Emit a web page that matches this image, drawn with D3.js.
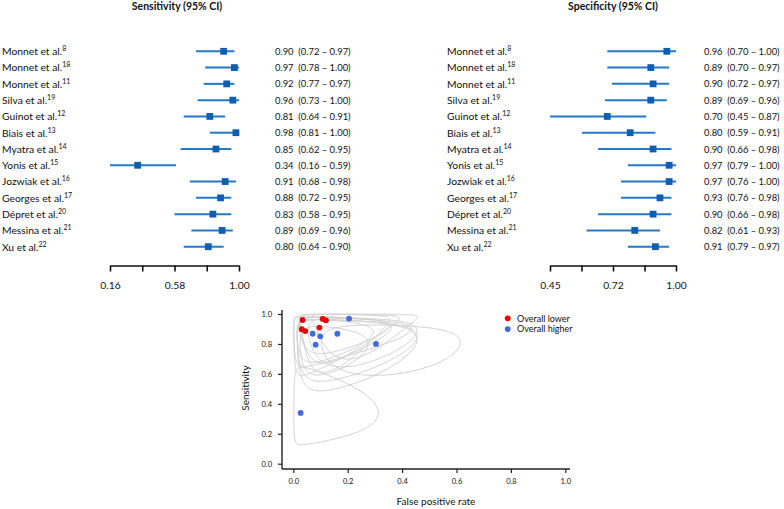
<!DOCTYPE html>
<html><head><meta charset="utf-8">
<script src="https://cdn.jsdelivr.net/npm/d3@7"></script>
<style>body{margin:0;background:#fff} svg{display:block} text{font-family:Lato,"Open Sans",sans-serif;fill:#111}</style>
</head><body><svg id="c" width="784" height="509"></svg>
<script>
// ---------- data ----------
const studies = ["Monnet et al.","Monnet et al.","Monnet et al.","Silva et al.","Guinot et al.","Biais et al.","Myatra et al.","Yonis et al.","Jozwiak et al.","Georges et al.","Dépret et al.","Messina et al.","Xu et al."];
const refs = ["8","18","11","19","12","13","14","15","16","17","20","21","22"];
const sens   = [0.90,0.97,0.92,0.96,0.81,0.98,0.85,0.34,0.91,0.88,0.83,0.89,0.80];
const sensLo = [0.72,0.78,0.77,0.73,0.64,0.81,0.62,0.16,0.68,0.72,0.58,0.69,0.64];
const sensHi = [0.97,1.00,0.97,1.00,0.91,1.00,0.95,0.59,0.98,0.95,0.95,0.96,0.90];
const spec   = [0.96,0.89,0.90,0.89,0.70,0.80,0.90,0.97,0.97,0.93,0.90,0.82,0.91];
const specLo = [0.70,0.70,0.72,0.69,0.45,0.59,0.66,0.79,0.76,0.76,0.66,0.61,0.79];
const specHi = [1.00,0.97,0.97,0.96,0.87,0.91,0.98,1.00,1.00,0.98,0.98,0.93,0.97];
const sensTicks = [0.16,0.37,0.58,0.79,1.00];
const sensTickLabels = ["0.16","","0.58","","1.00"];
const specTicks = [0.45,0.5875,0.725,0.8625,1.00];
const specTickLabels = ["0.45","","0.72","","1.00"];
// summary ROC plot points (false positive rate, sensitivity)
const srocFpr  = [0.034,0.108,0.120,0.031,0.044,0.096,0.205,0.071,0.099,0.162,0.082,0.304,0.027];
const srocSens = [0.960,0.967,0.958,0.898,0.886,0.909,0.969,0.868,0.851,0.868,0.795,0.800,0.339];
const srocGroup = ["lower","lower","lower","lower","lower","lower","higher","higher","higher","higher","higher","higher","higher"];
const groupNames = ["Overall lower","Overall higher"];
const rocTicks = [0,0.2,0.4,0.6,0.8,1.0];

const svg = d3.select("#c");
const lineCol = "#2679c7", sqCol = "#0e5fb4";
const rowY = d3.scalePoint().domain(d3.range(studies.length)).range([51.3,246.7]);
const fmt = d3.format(".2f");

function forest(opts){
  const g = svg.append("g");
  const x = d3.scaleLinear().domain(opts.domain).range(opts.range);
  g.append("text").attr("x",opts.titleX).attr("y",10).attr("text-anchor","middle")
    .style("font-weight","bold").style("font-size","10.5px").text(opts.title);
  studies.forEach((s,i)=>{
    const y = rowY(i);
    const t = g.append("text").attr("x",opts.labelX).attr("y",y+3.8).style("font-size","10.3px");
    t.append("tspan").text(s);
    t.append("tspan").attr("dy",-4).style("font-size","7px").text(refs[i]);
    g.append("line").attr("x1",x(opts.lo[i])).attr("x2",x(opts.hi[i])).attr("y1",y).attr("y2",y)
      .attr("stroke",lineCol).attr("stroke-width",2);
    g.append("rect").attr("x",x(opts.val[i])-3.4).attr("y",y-3.4).attr("width",6.8).attr("height",6.8).attr("fill",sqCol);
    g.append("text").attr("x",opts.valX).attr("y",y+3.6).style("font-size","9.4px")
      .attr("xml:space","preserve")
      .text(fmt(opts.val[i])+"  ("+fmt(opts.lo[i])+" \u2013 "+fmt(opts.hi[i])+")");
  });
  const ax = d3.axisBottom(x).tickValues(opts.ticks).tickSize(6).tickSizeOuter(0).tickPadding(10)
    .tickFormat((d,i)=>opts.tickLabels[i]);
  const a = g.append("g").attr("transform","translate(0,265.5)").call(ax);
  a.select(".domain").attr("stroke","#111").attr("stroke-width",1.6);
  a.selectAll(".tick line").attr("stroke","#111").attr("stroke-width",1.6);
  a.selectAll(".tick text").style("font-size","10.3px").style("font-family","Lato,'Open Sans',sans-serif").attr("fill","#111");
}
forest({domain:[0.16,1.0],range:[110,239],title:"Sensitivity (95% CI)",titleX:177,labelX:2,valX:275,
  val:sens,lo:sensLo,hi:sensHi,ticks:sensTicks,tickLabels:sensTickLabels});
forest({domain:[0.45,1.0],range:[550,676],title:"Specificity (95% CI)",titleX:613,labelX:447,valX:704,
  val:spec,lo:specLo,hi:specHi,ticks:specTicks,tickLabels:specTickLabels});

// ---------- ROC space plot ----------
const xr = d3.scaleLinear().domain([0,1]).range([293.3,565.3]);
const yr = d3.scaleLinear().domain([0,1]).range([463.7,314]);
const g2 = svg.append("g");
const logit = p=>Math.log(p/(1-p)), expit = v=>1/(1+Math.exp(-v));
const R = Math.sqrt(5.991);
function se(p,lo,hi){
  const s=[]; if(lo>0 && lo<p) s.push(logit(p)-logit(lo)); if(hi<1 && hi>p) s.push(logit(hi)-logit(p));
  return d3.mean(s)/1.96;
}
const ring = d3.line().x(d=>xr(d[0])).y(d=>yr(d[1])).curve(d3.curveLinearClosed);
studies.forEach((s,i)=>{
  const f = 1-spec[i], fs = se(f,1-specHi[i],1-specLo[i]), ss = se(sens[i],sensLo[i],sensHi[i]);
  const pts = d3.range(0,360,2).map(a=>{const t=a*Math.PI/180;
    return [expit(logit(f)+R*fs*Math.cos(t)), expit(logit(sens[i])+R*ss*Math.sin(t))];});
  g2.append("path").attr("d",ring(pts)).attr("fill","none").attr("stroke","#d2d2d2").attr("stroke-width",1);
});
const axX = d3.axisBottom(xr).tickValues(rocTicks).tickSize(4).tickSizeOuter(0).tickPadding(6).tickFormat(d3.format(".1f"));
const axY = d3.axisLeft(yr).tickValues(rocTicks).tickSize(4).tickSizeOuter(0).tickPadding(6).tickFormat(d3.format(".1f"));
const ax1 = g2.append("g").attr("transform","translate(0,469)").call(axX);
const ax2 = g2.append("g").attr("transform","translate(282,0)").call(axY);
[ax1,ax2].forEach(a=>{a.select(".domain").remove();
  a.selectAll(".tick line").attr("stroke","#222").attr("stroke-width",1.2);
  a.selectAll(".tick text").style("font-size","7.5px").style("font-family","Lato,'Open Sans',sans-serif").attr("fill","#333");});
g2.append("line").attr("x1",282).attr("x2",570).attr("y1",469).attr("y2",469).attr("stroke","#222").attr("stroke-width",1.4);
g2.append("line").attr("x1",282).attr("x2",282).attr("y1",310).attr("y2",469).attr("stroke","#222").attr("stroke-width",1.4);
g2.append("text").attr("x",436).attr("y",505).attr("text-anchor","middle").style("font-size","10px").text("False positive rate");
g2.append("text").attr("transform","translate(249,388) rotate(-90)").attr("text-anchor","middle").style("font-size","10px").text("Sensitivity");
const col = {lower:"#ee0000",higher:"#4169e1"};
srocFpr.forEach((f,i)=>{
  g2.append("circle").attr("cx",xr(f)).attr("cy",yr(srocSens[i])).attr("r",2.9).attr("fill",col[srocGroup[i]]);
});
["lower","higher"].forEach((k,i)=>{
  g2.append("circle").attr("cx",507.7).attr("cy",318.3+i*10.8).attr("r",2.9).attr("fill",col[k]);
  g2.append("text").attr("x",517).attr("y",318.3+i*10.8+3.2).style("font-size","9px").text(groupNames[i]);
});
</script></body></html>
